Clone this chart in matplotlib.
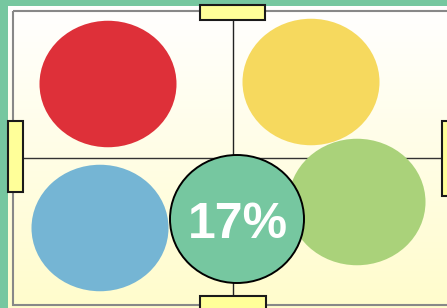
import numpy as np
import matplotlib
matplotlib.use("Agg")
import matplotlib.pyplot as plt
from matplotlib.patches import Ellipse, Rectangle
from matplotlib.colors import LinearSegmentedColormap

# Data
categories = ["red", "yellow", "blue", "green"]
colors = ["#DE3039", "#F6D95E", "#75B5D4", "#AAD27A"]
center_x = [108, 311, 100, 357]
center_y = [84, 82, 228, 202]
center_label = "17%"
center_value_x = 237
center_value_y = 219

W, H = 447, 308
fig = plt.figure(figsize=(W / 100, H / 100), dpi=100)
fig.patch.set_facecolor("#76C7A0")
ax = fig.add_axes([0, 0, 1, 1])
ax.set_xlim(0, W)
ax.set_ylim(H, 0)
ax.axis("off")

# gradient panel
cmap = LinearSegmentedColormap.from_list("g", ["#FFFFFF", "#FFFCCB"])
grad = np.linspace(0, 1, 256).reshape(-1, 1)
ax.imshow(grad, cmap=cmap, extent=[8, W + 5, H + 5, 6], aspect="auto", zorder=0)

# gray border
ax.add_patch(Rectangle((12.5, 11), W, 293.5, fill=False, edgecolor="#888888", lw=1.5, zorder=1))

# cross lines
ax.plot([23, 442], [157.5, 157.5], color="#333333", lw=1.0, zorder=2)
ax.plot([232.5, 232.5], [19, 295], color="#222222", lw=1.0, zorder=2)

# ellipses
for cx, cy, c in zip(center_x, center_y, colors):
    ax.add_patch(Ellipse((cx, cy), 137, 126.5, facecolor=c, edgecolor="none", zorder=3))

ax.add_patch(Ellipse((center_value_x, center_value_y), 134, 128, facecolor="#76C7A0",
                     edgecolor="black", lw=1.4, zorder=4))
ax.text(center_value_x + 1, 238, center_label, ha="center", va="baseline", color="white",
        fontsize=36, fontweight="bold", family=["Liberation Sans", "DejaVu Sans"], zorder=5)

# tabs
tabs = [(200, 5, 65, 14.5), (8, 121, 15, 71), (442, 121, 15, 75), (200, 295.5, 65.5, 20)]
for (x, y, w, h) in tabs:
    ax.add_patch(Rectangle((x, y), w, h, facecolor="#FFFF99", edgecolor="#1a1a1a", lw=1.5, zorder=6))

fig.savefig("out.png", dpi=100, facecolor=fig.get_facecolor())
